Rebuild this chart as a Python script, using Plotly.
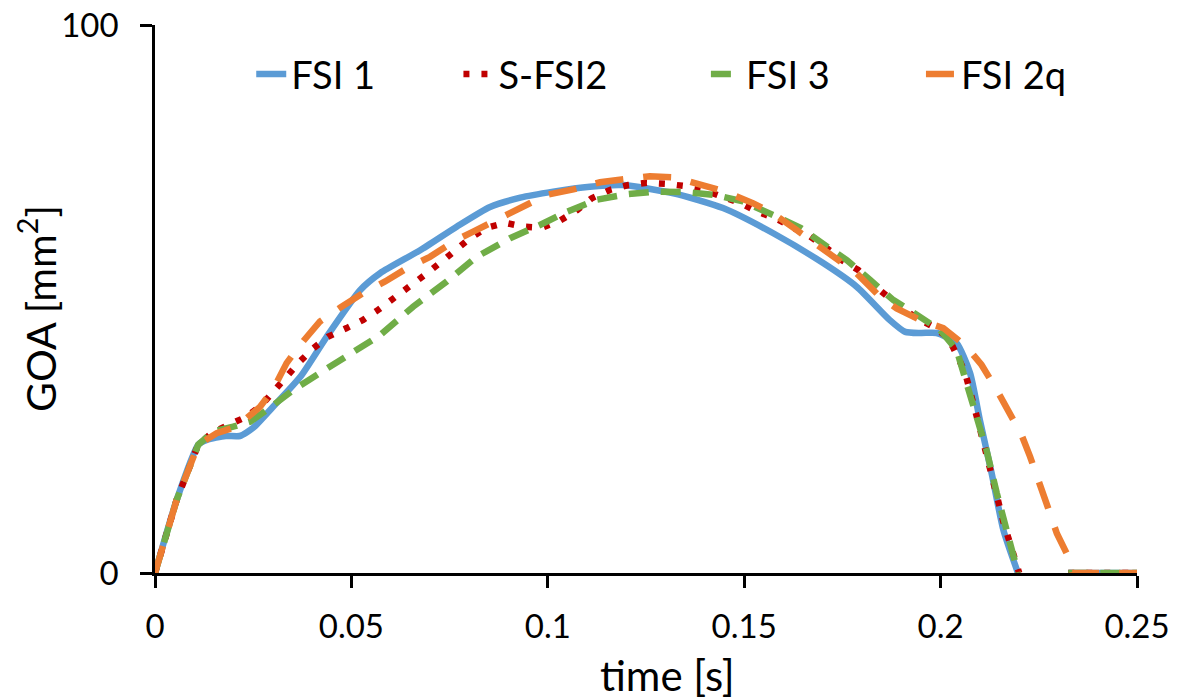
import plotly.graph_objects as go

# ---------------- data ----------------
fsi1_t = [0, 0.0055, 0.011, 0.0132, 0.018, 0.0216, 0.025, 0.030, 0.037, 0.0437, 0.0522,
          0.0573, 0.0675, 0.0768, 0.0853, 0.0930, 0.1014, 0.1107, 0.119, 0.132, 0.1446,
          0.1574, 0.170, 0.1787, 0.187, 0.1910, 0.195, 0.199, 0.204, 0.2075, 0.21, 0.213,
          0.216, 0.2197, 0.226, 0.2325, 0.25]
fsi1_v = [0, 13.3, 23.4, 24.3, 25.0, 25.0, 26.5, 30.3, 35.8, 43.1, 51.6,
          54.7, 58.9, 63.2, 66.8, 68.5, 69.6, 70.5, 70.8, 69.3, 66.6,
          62.0, 56.6, 52.2, 46.2, 44.0, 43.8, 43.8, 42.0, 36.5, 27.9, 18.2,
          7.8, 0, None, 0, 0]

sfsi2_t = [0, 0.0055, 0.011, 0.0144, 0.0186, 0.0233, 0.0272, 0.030, 0.0335, 0.0369, 0.0403,
           0.044, 0.0488, 0.053, 0.0568, 0.0611, 0.0649, 0.0687, 0.0726, 0.0764, 0.0802,
           0.0844, 0.0891, 0.0937, 0.0984, 0.1031, 0.1074, 0.1112, 0.1158, 0.1205, 0.1252,
           0.1303, 0.135, 0.1396, 0.1443, 0.149, 0.1535, 0.1583, 0.1625, 0.1668, 0.171,
           0.1748, 0.179, 0.1824, 0.1866, 0.1897, 0.194, 0.198, 0.202, 0.2062, 0.21,
           0.2134, 0.216, 0.22, 0.226, 0.2325, 0.25]
sfsi2_v = [0, 13.3, 23.4, 25.5, 27.0, 28.5, 30.7, 33.0, 35.8, 38.6, 41.0,
           43.1, 44.7, 46.2, 48.0, 50.2, 52.2, 54.4, 56.6, 59.0, 61.1,
           63.0, 63.9, 63.2, 63.0, 64.3, 66.2, 68.4, 69.9, 70.8, 71.2,
           71.0, 70.6, 69.9, 68.7, 67.5, 65.9, 64.6, 63.0, 61.4, 59.3,
           57.1, 55.3, 52.9, 50.4, 48.6, 46.5, 45.0, 42.9, 36.7, 26.4,
           16.0, 9.3, 0, None, 0, 0]

fsi3_t = [0, 0.0055, 0.011, 0.0148, 0.0199, 0.0242, 0.0284, 0.0352, 0.042, 0.0496, 0.0573,
          0.0657, 0.0743, 0.0819, 0.0904, 0.098, 0.1048, 0.1124, 0.12, 0.1273, 0.135,
          0.1426, 0.1497, 0.1574, 0.1643, 0.171, 0.1761, 0.182, 0.188, 0.194, 0.1999,
          0.2041, 0.2088, 0.2117, 0.2143, 0.2185, 0.2197, 0.226, 0.2325, 0.25]
fsi3_v = [0, 13.3, 23.4, 25.8, 26.7, 27.6, 29.7, 33.4, 36.5, 39.8, 43.4,
          48.6, 53.2, 57.7, 61.1, 63.5, 65.9, 68.1, 69.1, 69.6, 69.5,
          69.0, 67.8, 65.3, 63.0, 59.6, 57.1, 53.5, 49.8, 47.1, 44.3,
          40.7, 29.7, 22.4, 14.6, 3.6, 0, None, 0, 0]

fsi2q_t = [0, 0.0055, 0.011, 0.0157, 0.0208, 0.0267, 0.030, 0.0335, 0.0369, 0.042, 0.0471,
           0.053, 0.0586, 0.0641, 0.07, 0.0768, 0.081, 0.0878, 0.0937, 0.0997, 0.1065,
           0.1133, 0.1188, 0.126, 0.1324, 0.1395, 0.1451, 0.1522, 0.1574, 0.1633, 0.1675,
           0.1744, 0.1786, 0.1846, 0.1888, 0.1956, 0.2007, 0.2066, 0.2104, 0.2143, 0.2172,
           0.2206, 0.2228, 0.2253, 0.2274, 0.2296, 0.2325, 0.2335, 0.25]
fsi2q_v = [0, 13.3, 23.4, 25.5, 26.7, 30.3, 33.4, 38.3, 41.6, 45.9, 48.4,
           51.1, 53.2, 55.6, 57.7, 60.8, 62.3, 64.7, 66.8, 69.0, 70.0,
           71.3, 71.8, 72.4, 72.2, 70.9, 69.6, 67.5, 65.6, 62.6, 60.5,
           57.1, 54.7, 50.4, 48.3, 45.9, 44.7, 41.3, 38.0, 33.4, 29.4,
           25.2, 21.2, 16.4, 11.8, 7.2, 3.0, 0, 0]

series_names = ["FSI 1", "S-FSI2", "FSI 3", "FSI 2q"]
x_ticks = [0, 0.05, 0.1, 0.15, 0.2, 0.25]
y_ticks = [0, 100]
x_title = "time [s]"
y_title = "GOA [mm<sup>2</sup>]"

# ---------------- figure ----------------
FONT = "Lato"
fig = go.Figure()

fig.add_trace(go.Scatter(x=fsi1_t, y=fsi1_v, name=series_names[0], mode="lines", showlegend=True,
                         line=dict(color="#5B9BD5", width=6.5, shape="spline", smoothing=0.6),
                         legend="legend"))
fig.add_trace(go.Scatter(x=sfsi2_t, y=sfsi2_v, name=series_names[1], mode="lines", showlegend=True,
                         line=dict(color="#C00000", width=6.5, dash="6px,12px"),
                         legend="legend2"))
fig.add_trace(go.Scatter(x=fsi3_t, y=fsi3_v, name=series_names[2], mode="lines", showlegend=True,
                         line=dict(color="#70AD47", width=6.5, dash="20px,12px"),
                         legend="legend3"))
fig.add_trace(go.Scatter(x=fsi2q_t, y=fsi2q_v, name=series_names[3], mode="lines", showlegend=True,
                         line=dict(color="#ED7D31", width=6.5, dash="28px,20px"),
                         legend="legend4"))

leg_common = dict(orientation="h", yanchor="middle", xanchor="left", y=0.91,
                  bgcolor="rgba(0,0,0,0)", font=dict(family=FONT, size=38, color="#000"))
fig.update_layout(
    showlegend=True,
    legend=dict(x=0.098, **leg_common),
    legend2=dict(x=0.309, **leg_common),
    legend3=dict(x=0.561, **leg_common),
    legend4=dict(x=0.780, **leg_common),
)

fig.update_layout(
    width=1181, height=700,
    margin=dict(l=155, r=44, t=25, b=127),
    paper_bgcolor="white", plot_bgcolor="white",
    font=dict(family=FONT, color="#000"),
    xaxis=dict(range=[0, 0.25], tickvals=x_ticks, ticktext=[str(v) for v in x_ticks],
               showgrid=False, zeroline=False, showline=True, linecolor="#000", linewidth=2.5,
               ticks="outside", ticklen=12, tickwidth=2.5, tickcolor="#000", automargin=False,
               tickfont=dict(family=FONT, size=33), ticklabelstandoff=11),
    yaxis=dict(range=[0, 100], tickvals=y_ticks, ticktext=[str(v) for v in y_ticks],
               showgrid=False, zeroline=False, showline=True, linecolor="#000", linewidth=2.5,
               ticks="outside", ticklen=12, tickwidth=2.5, tickcolor="#000", automargin=False,
               tickfont=dict(family=FONT, size=33), ticklabelstandoff=15),
    annotations=[
        dict(text=x_title, xref="paper", yref="paper", x=0.522, y=-0.186,
             xanchor="center", yanchor="middle", showarrow=False,
             font=dict(family=FONT, size=42, color="#000")),
        dict(text=y_title, xref="paper", yref="paper", x=-0.120, y=0.482, textangle=-90,
             xanchor="center", yanchor="middle", showarrow=False,
             font=dict(family=FONT, size=41, color="#000")),
    ],
)

fig.write_html("out.html")
